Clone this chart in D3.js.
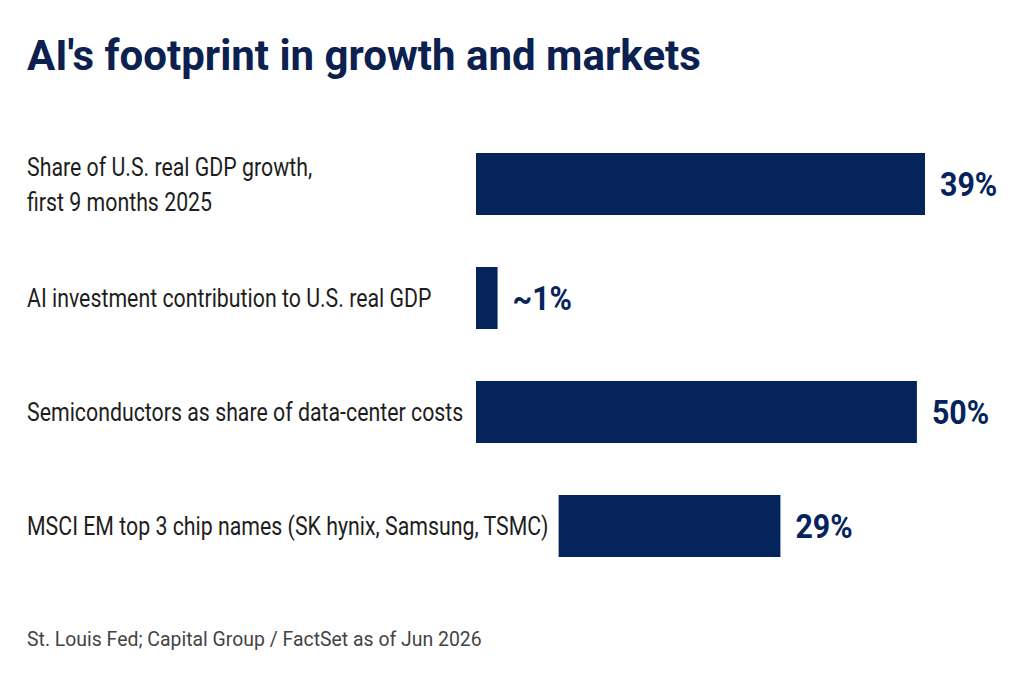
<!DOCTYPE html>
<html>
<head>
<meta charset="utf-8">
<script src="https://cdn.jsdelivr.net/npm/d3@7"></script>
<style>
  html, body { margin: 0; padding: 0; background: #ffffff; }
  svg { display: block; }
</style>
</head>
<body>
<svg id="chart" width="1024" height="687"></svg>
<script>
// ---- data ----
const title = "AI's footprint in growth and markets";
const categories = [
  ["Share of U.S. real GDP growth,", "first 9 months 2025"],
  ["AI investment contribution to U.S. real GDP"],
  ["Semiconductors as share of data-center costs"],
  ["MSCI EM top 3 chip names (SK hynix, Samsung, TSMC)"]
];
const valueLabels = ["39%", "~1%", "50%", "29%"];
// bar extents as drawn in the picture (the bars are illustrative, not to scale)
const barFrom = [0, 0, 0, 9.2];
const barTo   = [50, 2.4, 49.1, 33.9];
const source = "St. Louis Fed; Capital Group / FactSet as of Jun 2026";

// ---- styles ----
const NAVY = "#06245c";
const TITLE_COLOR = "#0c2150";
const LABEL_COLOR = "#1e1e1e";
const SOURCE_COLOR = "#444444";
const FONT = "Roboto, 'Liberation Sans', Arial, sans-serif";

const svg = d3.select("#chart");
const rows = categories.map((c, i) => ({ lines: c, label: valueLabels[i], from: barFrom[i], to: barTo[i] }));

const x = d3.scaleLinear().domain([0, 50]).range([476, 925]);
const y = d3.scalePoint().domain(d3.range(rows.length)).range([184, 526]);
const barH = 62;

function condensed(sel, cx, cy, k) {
  sel.attr("transform", `translate(${cx},${cy}) scale(${k},1)`);
}

// title
svg.append("text")
  .text(title)
  .attr("font-family", FONT)
  .attr("font-weight", 700)
  .attr("font-size", 42)
  .attr("fill", TITLE_COLOR)
  .call(condensed, 27, 70, 1.0);

// rows
const g = svg.selectAll("g.row").data(rows).join("g").attr("class", "row");

g.append("rect")
  .attr("x", d => x(d.from))
  .attr("width", d => x(d.to) - x(d.from))
  .attr("y", (d, i) => y(i) - barH / 2)
  .attr("height", barH)
  .attr("fill", NAVY);

g.append("text")
  .text(d => d.label)
  .attr("font-family", FONT)
  .attr("font-weight", 700)
  .attr("font-size", 33)
  .attr("fill", NAVY)
  .each(function (d, i) {
    d3.select(this).call(condensed, x(d.to) + 15, y(i) + 12, 0.92);
  });

g.each(function (d, i) {
  const n = d.lines.length;
  const lh = 35;
  d.lines.forEach((line, j) => {
    d3.select(this).append("text")
      .text(line)
      .attr("font-family", FONT)
      .attr("font-size", 26)
      .attr("fill", LABEL_COLOR)
      .call(condensed, 27, y(i) + 9 - (n - 1) * lh / 2 + j * lh, 0.82);
  });
});

// source
svg.append("text")
  .text(source)
  .attr("font-family", FONT)
  .attr("font-size", 21)
  .attr("fill", SOURCE_COLOR)
  .call(condensed, 27, 646, 0.925);
</script>
</body>
</html>
